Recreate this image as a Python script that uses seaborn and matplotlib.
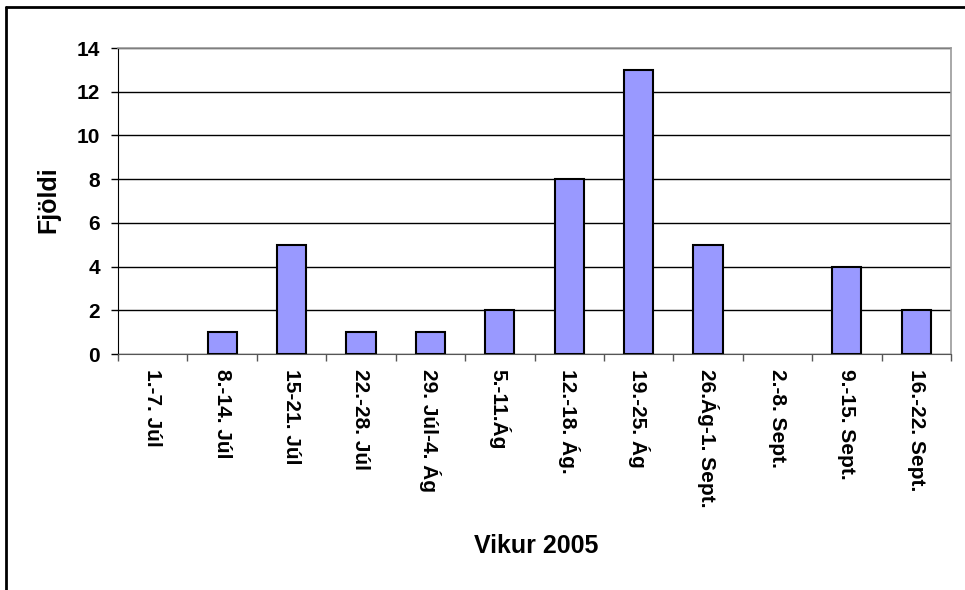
import numpy as np
import pandas as pd
import seaborn as sns
from matplotlib import pyplot as plt
from matplotlib.lines import Line2D

# vikur og fjoldi
vikur = ['1.-7. Júl', '8.-14. Júl', '15-21. Júl', '22.-28. Júl', '29. Júl-4. Ág',
         '5.-11.Ág', '12.-18. Ág.', '19.-25. Ág', '26.Ág-1. Sept.', '2.-8. Sept.',
         '9.-15. Sept.', '16.-22. Sept.']
fjoldi = [0, 1, 5, 1, 1, 2, 8, 13, 5, 0, 4, 2]
y_ticks = [0, 2, 4, 6, 8, 10, 12, 14]

dados = pd.DataFrame({'vika': vikur, 'fjoldi': fjoldi})

sns.set_style('white')
plt.rcParams['font.family'] = ['Liberation Sans', 'DejaVu Sans']
plt.rcParams['font.weight'] = 'bold'
plt.rcParams['text.color'] = 'black'
plt.rcParams['xtick.labelcolor'] = 'black'
plt.rcParams['ytick.labelcolor'] = 'black'

fig = plt.figure(figsize=(9.65, 5.9), dpi=100)
ax = fig.add_axes([0.1223, 0.4, 0.8632, 0.5186])

sns.barplot(data=dados, x='vika', y='fjoldi', color='#9999FF', saturation=1,
            edgecolor='black', linewidth=1.5, width=0.42, ax=ax, zorder=3)
# engar brunir a sulum med 0
for p in ax.patches:
    if p.get_height() == 0:
        p.set_linewidth(0)

ax.set_ylim(0, 14)
ax.set_xlim(-0.5, len(vikur) - 0.5)
ax.set_yticks(y_ticks)
ax.set_yticklabels([str(t) for t in y_ticks], fontsize=15, fontweight='bold', color='black')
ax.yaxis.grid(True, color='black', linewidth=1, zorder=0)
ax.set_axisbelow(True)

ax.set_xticks(range(len(vikur)))
ax.set_xticklabels(vikur, rotation=270, fontsize=15, fontweight='bold', va='top', ha='center', color='black')
ax.set_xticks(np.arange(-0.5, len(vikur)), minor=True)
ax.tick_params(axis='x', which='major', length=0, pad=11)
ax.tick_params(axis='x', which='minor', length=5, width=1, color='#555555', direction='out', bottom=True)
ax.tick_params(axis='y', length=5, width=1, color='black', direction='out', left=True, pad=8)

for side in ['top', 'right']:
    ax.spines[side].set_color('#999999')
    ax.spines[side].set_linewidth(1.2)
ax.spines['left'].set_color('black')
ax.spines['bottom'].set_color('#555555')

ax.set_xlabel('')
ax.set_ylabel('')
fig.text(536 / 965, 1 - 546 / 590, 'Vikur 2005', fontsize=18, fontweight='bold', ha='center', va='center')
fig.text(48 / 965, 1 - 200 / 590, 'Fjöldi', fontsize=18, fontweight='bold', rotation=90, ha='center', va='center')

# rammi utan um myndina
fig.add_artist(Line2D([0.0065, 0.0065], [0, 0.988], color='black', linewidth=2, transform=fig.transFigure))
fig.add_artist(Line2D([0.0065, 1], [0.988, 0.988], color='black', linewidth=2, transform=fig.transFigure))

plt.savefig('out.png', dpi=100)
